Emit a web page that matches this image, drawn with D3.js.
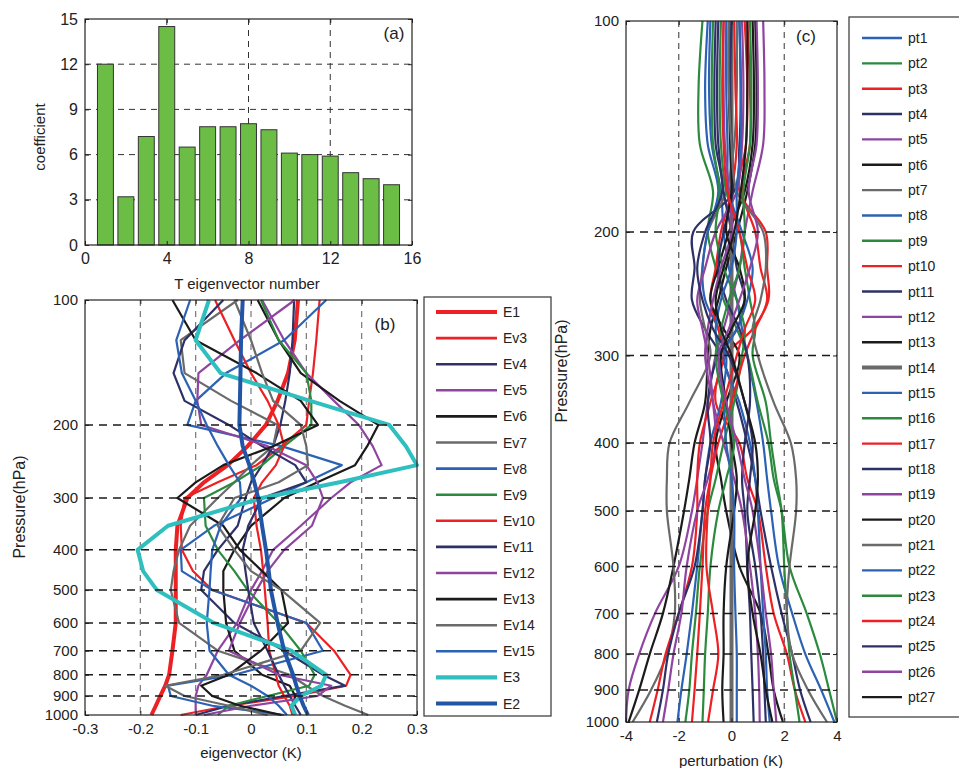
<!DOCTYPE html>
<html>
<head>
<meta charset="utf-8">
<script src="https://cdn.jsdelivr.net/npm/d3@7"></script>
<style>
body { margin: 0; background: #fff; }
text { font-family: "Liberation Sans", Arial, sans-serif; fill: #222; }
</style>
</head>
<body>
<div id="fig"></div>
<script>
// ---------- panel (a): coefficients ----------
const eigNumbers = d3.range(1, 16);
const coefficients = [12.0, 3.2, 7.2, 14.5, 6.5, 7.85, 7.85, 8.05, 7.65, 6.1, 6.0, 5.9, 4.8, 4.4, 4.0];
const aTicksX = [0, 4, 8, 12, 16];
const aTicksY = [0, 3, 6, 9, 12, 15];

// ---------- panel (b): eigenvectors ----------
const levelsB = [100, 125, 150, 175, 200, 225, 250, 275, 300, 350, 400, 450, 500, 600, 700, 800, 850, 900, 950, 1000];
const eigNames = ["E1", "Ev3", "Ev4", "Ev5", "Ev6", "Ev7", "Ev8", "Ev9", "Ev10", "Ev11", "Ev12", "Ev13", "Ev14", "Ev15", "E3", "E2"];
const E1   = [0.085, 0.079, 0.067, 0.048, 0.027, -0.006, -0.042, -0.085, -0.115, -0.133, -0.136, -0.136, -0.136, -0.136, -0.142, -0.148, -0.155, -0.164, -0.172, -0.18];
const Ev3  = [0.124, 0.118, 0.112, 0.105, 0.10, 0.055, 0.01, -0.06, -0.12, -0.127, -0.125, -0.105, -0.07, 0.10, 0.15, 0.18, 0.172, 0.08, -0.04, -0.127];
const Ev4  = [0.078, 0.075, 0.07, 0.062, 0.053, 0.04, 0.02, 0.0, -0.01, -0.024, -0.06, -0.085, -0.09, -0.03, 0.06, 0.13, 0.17, 0.06, -0.04, -0.10];
const Ev5  = [0.02, 0.06, 0.10, 0.15, 0.195, 0.22, 0.236, 0.18, 0.145, 0.09, 0.04, 0.02, 0.0, -0.025, -0.06, -0.08, -0.095, -0.10, -0.10, -0.10];
const Ev6  = [0.012, 0.05, 0.09, 0.16, 0.23, 0.21, 0.188, 0.12, 0.06, 0.0, -0.03, -0.05, -0.05, -0.045, -0.03, 0.02, 0.07, 0.08, 0.075, 0.075];
const Ev7  = [-0.024, -0.127, -0.12, -0.036, 0.048, 0.04, 0.0, -0.03, -0.06, -0.11, -0.13, -0.14, -0.145, -0.13, -0.06, 0.07, 0.10, 0.13, 0.17, 0.212];
const Ev8  = [0.136, 0.06, -0.045, -0.10, -0.115, 0.055, 0.164, 0.10, 0.04, -0.067, -0.127, -0.125, -0.07, 0.10, 0.13, -0.03, -0.15, -0.145, -0.07, 0.06];
const Ev9  = [0.018, 0.05, 0.10, 0.109, 0.109, 0.06, 0.02, -0.03, -0.085, -0.082, -0.06, -0.03, -0.006, 0.05, 0.09, 0.115, 0.105, 0.03, -0.04, -0.06];
const Ev10 = [-0.065, -0.03, 0.0, 0.03, 0.05, 0.06, 0.045, 0.02, 0.005, 0.01, 0.018, 0.022, 0.025, 0.03, 0.033, 0.045, 0.05, 0.06, 0.07, 0.075];
const Ev11 = [-0.05, -0.12, -0.14, -0.12, -0.04, 0.02, 0.08, 0.10, 0.02, -0.005, -0.015, -0.01, -0.005, 0.005, 0.03, 0.05, 0.06, 0.07, 0.08, 0.09];
const Ev12 = [0.079, -0.02, -0.095, -0.097, -0.09, 0.03, 0.10, 0.12, 0.13, 0.11, 0.06, 0.03, 0.01, -0.02, -0.04, 0.05, 0.145, 0.12, 0.0, -0.085];
const Ev13 = [-0.142, -0.10, 0.01, 0.09, 0.121, 0.04, -0.05, -0.10, -0.133, -0.05, -0.02, 0.02, 0.055, 0.067, 0.018, -0.04, -0.09, -0.07, -0.02, 0.055];
const Ev14 = [-0.03, 0.0, 0.02, 0.04, 0.09, 0.10, 0.103, 0.05, -0.03, -0.06, -0.03, 0.0, 0.055, 0.125, 0.09, -0.05, -0.155, -0.12, -0.04, 0.03];
const Ev15 = [-0.11, -0.135, -0.125, -0.10, -0.08, -0.06, -0.04, -0.02, -0.018, -0.055, -0.07, -0.073, -0.075, -0.08, -0.075, -0.04, 0.0, 0.03, 0.05, 0.065];
const E3   = [-0.076, -0.10, -0.055, 0.107, 0.25, 0.28, 0.30, 0.16, 0.02, -0.15, -0.205, -0.195, -0.17, -0.067, 0.073, 0.136, 0.127, 0.09, 0.073, 0.08];
const E2   = [-0.015, -0.018, -0.019, -0.02, -0.021, -0.015, -0.003, 0.006, 0.013, 0.02, 0.027, 0.032, 0.036, 0.048, 0.06, 0.076, 0.082, 0.088, 0.095, 0.103];
const eigSeries = [E1, Ev3, Ev4, Ev5, Ev6, Ev7, Ev8, Ev9, Ev10, Ev11, Ev12, Ev13, Ev14, Ev15, E3, E2];
const bTicksX = [-0.3, -0.2, -0.1, 0, 0.1, 0.2, 0.3];
const pTicks = [100, 200, 300, 400, 500, 600, 700, 800, 900, 1000];

// ---------- panel (c): perturbations ----------
const levelsC = [100, 125, 150, 175, 200, 225, 250, 275, 300, 350, 400, 450, 500, 600, 700, 800, 900, 1000];
const pt = [
  [-0.8, -0.85, -0.75, -0.4, -0.3, -0.1, 0.2, 0.4, 0.6, 0.95, 1.2, 1.35, 1.5, 1.8, 2.3, 2.8, 3.4, 3.9],
  [-1.1, -1.25, -1.2, -0.7, -0.9, -0.6, -0.3, 0.2, 0.6, 1.0, 1.4, 1.6, 1.9, 2.2, 2.85, 3.35, 3.7, 4.0],
  [0.5, 0.6, 0.55, 0.3, 1.3, 1.35, 1.4, 0.8, -0.2, -0.6, 0.3, 0.6, 1.0, 1.3, 1.6, 2.1, 2.4, 2.8],
  [0.3, 0.35, 0.3, 0.1, -1.45, -1.4, -1.5, -1.0, -0.4, 0.2, 0.6, 0.9, 1.1, 1.5, 1.9, 2.3, 2.6, 3.0],
  [1.2, 1.25, 1.2, 0.8, 0.5, 0.3, 0.0, -0.3, -0.6, -0.9, -1.1, -1.3, -1.5, -2.0, -2.9, -3.5, -3.9, -4.0],
  [0.9, 0.95, 0.9, 0.6, 0.2, -0.2, -0.5, -0.8, -0.9, -1.0, -1.4, -1.6, -1.8, -2.2, -2.6, -3.1, -3.5, -3.9],
  [0.2, 0.2, 0.1, -0.2, -0.9, -1.1, -1.2, -1.0, -0.8, -1.6, -2.35, -2.45, -2.45, -2.2, -2.15, -2.45, -3.05, -3.75],
  [-0.9, -1.0, -0.9, -0.5, -0.9, -1.1, -1.0, -0.5, -0.2, -0.4, -0.8, -1.0, -1.1, -1.3, -1.5, -1.7, -1.9, -2.05],
  [-0.4, -0.45, -0.4, -0.2, 0.3, 0.5, 0.7, 0.9, 0.8, 1.3, 1.5, 1.7, 1.9, 2.0, 2.1, 2.2, 2.4, 2.58],
  [0.1, 0.15, 0.2, 0.0, -0.4, -0.6, -0.8, -0.5, -0.3, -0.8, -1.2, -1.3, -1.3, -1.5, -2.0, -2.5, -2.8, -3.1],
  [-0.5, -0.55, -0.5, -0.3, 0.0, 0.2, 0.5, 0.2, -0.5, -0.9, -0.8, -1.0, -1.1, -1.4, -2.0, -2.4, -2.6, -2.83],
  [0.4, 0.45, 0.4, 0.2, -0.6, -1.0, -1.3, -1.1, -0.9, -0.7, -0.6, -0.9, -1.3, -1.7, -1.9, -2.2, -2.4, -2.6],
  [0.8, 0.85, 0.8, 0.5, -0.1, -0.5, -0.8, -0.3, 0.3, -0.2, -0.6, -0.4, -0.2, 0.3, 1.1, 1.4, 1.6, 1.95],
  [0, 0, 0, 0, 0, 0, 0, 0, 0, 0, 0, 0, 0, 0, 0, 0, 0, 0],
  [-0.2, -0.2, -0.15, -0.1, 0.4, 0.8, 0.6, 0.2, -0.3, 0.3, 0.7, 0.9, 1.0, 1.1, 1.2, 1.3, 1.35, 1.45],
  [-0.7, -0.75, -0.7, -0.45, -0.6, -0.3, 0.2, 0.5, 0.4, 0.1, -0.3, -0.6, -0.9, -1.2, -1.35, -1.5, -1.6, -1.75],
  [0.6, 0.7, 0.7, 0.4, 0.9, 1.1, 1.35, 0.9, 0.5, 0.0, -0.5, -0.8, -1.0, -1.1, -1.2, -1.3, -1.4, -1.5],
  [0.0, -0.05, 0.0, 0.05, -0.3, -0.5, -0.2, 0.3, 0.6, 0.7, 0.5, 0.4, 0.5, 0.6, 0.7, 0.75, 0.8, 0.84],
  [-0.3, -0.3, -0.25, -0.1, 0.0, -0.4, -0.7, -0.9, -1.0, -0.7, -0.3, 0.1, 0.4, 0.7, 0.9, 1.0, 1.05, 1.07],
  [-0.1, -0.1, -0.05, 0.0, -0.2, 0.3, 0.5, 0.0, -0.4, -0.2, 0.0, 0.2, 0.1, -0.2, -0.3, -0.3, -0.35, -0.3],
  [-0.1, -0.1, 0.0, 0.2, 1.2, 1.3, 1.1, 0.8, 1.0, 1.6, 2.25, 2.45, 2.45, 2.2, 2.1, 2.3, 2.9, 3.62],
  [0.3, 0.35, 0.35, 0.2, 0.2, 0.0, -0.4, -0.6, -0.5, -0.3, -0.2, 0.0, 0.1, 0.1, 0.15, 0.2, 0.2, 0.2],
  [0.7, 0.75, 0.7, 0.45, 0.5, 0.3, -0.1, -0.4, -0.6, -0.3, 0.1, -0.2, -0.5, -0.8, -0.9, -1.0, -1.05, -1.1],
  [-0.3, -0.35, -0.3, -0.15, 0.3, 0.6, 0.9, 0.5, 0.2, -0.3, -0.7, -0.8, -0.9, -0.95, -0.7, -0.5, -0.7, -0.89],
  [-0.6, -0.65, -0.6, -0.35, -1.0, -1.3, -1.1, -0.7, -0.1, 0.5, 0.8, 0.7, 0.6, 0.9, 1.1, 1.2, 1.25, 1.3],
  [0.95, 1.0, 0.95, 0.65, 1.0, 0.7, 0.3, -0.1, -0.5, -0.2, 0.2, 0.5, 0.8, 1.1, 1.3, 1.5, 1.6, 1.7],
  [0.6, 0.6, 0.55, 0.35, 0.1, -0.3, -0.6, -0.4, 0.0, 0.5, 0.9, 1.0, 0.9, 0.6, 0.8, 1.1, 1.3, 1.55]
];
const ptNames = pt.map((d, i) => "pt" + (i + 1));
const cTicksX = [-4, -2, 0, 2, 4];

// colours
const RED = "#ed2024", NAVY = "#2e3068", PURPLE = "#8f45a0", BLACK = "#1b1b1b",
      GRAY = "#6a6a6a", BLUE = "#2b62b3", GREEN = "#2b8a3e", CYAN = "#2fbfbf", DBLUE = "#2255a5";
const eigColors = [RED, RED, NAVY, PURPLE, BLACK, GRAY, BLUE, GREEN, RED, NAVY, PURPLE, BLACK, GRAY, BLUE, CYAN, DBLUE];
const eigWidths = eigNames.map(n => n.startsWith("Ev") ? 2.2 : 4);
const ptCycle = [BLUE, GREEN, RED, NAVY, PURPLE, BLACK, GRAY];

// plain hyphen minus, like the original figure
const plain = d => String(d);

const svg = d3.select("#fig").append("svg").attr("width", 959).attr("height", 768);

// helper: inward ticks on all four sides, frame, labels
function drawAxes(x, y, xt, yt, xfmt, yfmt, fs) {
  const [x0, x1] = x.range();
  const yTop = d3.min(y.range()), yBot = d3.max(y.range());
  const style = g => {
    g.select(".domain").remove();
    g.attr("font-family", null).attr("font-size", fs);
    g.selectAll("line").attr("stroke", "#222");
  };
  svg.append("g").attr("transform", `translate(0,${yBot})`)
    .call(d3.axisBottom(x).tickValues(xt).tickFormat(xfmt).tickSize(-4).tickPadding(8)).call(style);
  svg.append("g").attr("transform", `translate(0,${yTop})`)
    .call(d3.axisTop(x).tickValues(xt).tickFormat("").tickSize(-4)).call(style);
  svg.append("g").attr("transform", `translate(${x0},0)`)
    .call(d3.axisLeft(y).tickValues(yt).tickFormat(yfmt).tickSize(-4).tickPadding(7)).call(style);
  svg.append("g").attr("transform", `translate(${x1},0)`)
    .call(d3.axisRight(y).tickValues(yt).tickFormat("").tickSize(-4)).call(style);
  svg.append("rect").attr("x", x0).attr("y", yTop).attr("width", x1 - x0).attr("height", yBot - yTop)
    .attr("fill", "none").attr("stroke", "#222").attr("stroke-width", 1.2);
}

function vGrid(x, y, vals, color, dash, w) {
  svg.append("g").selectAll("line").data(vals).join("line")
    .attr("x1", d => x(d)).attr("x2", d => x(d))
    .attr("y1", y.range()[0]).attr("y2", y.range()[1])
    .attr("stroke", color).attr("stroke-dasharray", dash).attr("stroke-width", w);
}
function hGrid(x, y, vals, color, dash, w) {
  svg.append("g").selectAll("line").data(vals).join("line")
    .attr("y1", d => y(d)).attr("y2", d => y(d))
    .attr("x1", x.range()[0]).attr("x2", x.range()[1])
    .attr("stroke", color).attr("stroke-dasharray", dash).attr("stroke-width", w);
}

// ===== panel (a) =====
const xA = d3.scaleLinear().domain([0, 16]).range([85, 412]);
const yA = d3.scaleLinear().domain([0, 15]).range([245, 19]);
hGrid(xA, yA, [3, 6, 9, 12], "#333", "6,5", 1);
vGrid(xA, yA, [4, 8, 12], "#333", "6,5", 1);
svg.append("g").selectAll("rect").data(coefficients).join("rect")
  .attr("x", (d, i) => xA(eigNumbers[i] - 0.39))
  .attr("width", xA(0.78) - xA(0))
  .attr("y", d => yA(d)).attr("height", d => yA(0) - yA(d))
  .attr("fill", "#6cbd45").attr("stroke", "#333").attr("stroke-width", 1);
drawAxes(xA, yA, aTicksX, aTicksY, plain, plain, 16);
svg.append("text").attr("x", 394).attr("y", 39).attr("text-anchor", "middle").attr("font-size", 17).text("(a)");
svg.append("text").attr("x", 247).attr("y", 289).attr("text-anchor", "middle").attr("font-size", 15).text("T eigenvector number");
svg.append("text").attr("transform", "translate(45,137) rotate(-90)").attr("text-anchor", "middle").attr("font-size", 15).text("coefficient");

// ===== panel (b) =====
const xB = d3.scaleLinear().domain([-0.3, 0.3]).range([85, 417]);
const yB = d3.scaleLog().domain([100, 1000]).range([300, 715]);
vGrid(xB, yB, [-0.2, -0.1, 0, 0.1, 0.2], "#777", "6,5", 1.2);
const lineB = d3.line().x(d => xB(d[1])).y(d => yB(d[0]));
svg.append("g").selectAll("path").data(eigSeries).join("path")
  .attr("d", s => lineB(levelsB.map((p, i) => [p, s[i]])))
  .attr("fill", "none")
  .attr("stroke", (s, i) => eigColors[i])
  .attr("stroke-width", (s, i) => eigWidths[i])
  .attr("stroke-linejoin", "round");
hGrid(xB, yB, [200, 300, 400, 500, 600, 700, 800, 900], "#1a1a1a", "8,6", 1.5);
drawAxes(xB, yB, bTicksX, pTicks, plain, plain, 15);
svg.append("text").attr("x", 385).attr("y", 330).attr("text-anchor", "middle").attr("font-size", 17).text("(b)");
svg.append("text").attr("x", 251).attr("y", 758).attr("text-anchor", "middle").attr("font-size", 15).text("eigenvector (K)");
svg.append("text").attr("transform", "translate(25,507) rotate(-90)").attr("text-anchor", "middle").attr("font-size", 16).text("Pressure(hPa)");

// legend (b)
svg.append("rect").attr("x", 424).attr("y", 297).attr("width", 127).attr("height", 419)
  .attr("fill", "#fff").attr("stroke", "#333").attr("stroke-width", 1.2);
const legB = svg.append("g").selectAll("g").data(eigNames).join("g")
  .attr("transform", (d, i) => `translate(0,${312 + i * 26.1})`);
legB.append("line").attr("x1", 436).attr("x2", 497)
  .attr("stroke", (d, i) => eigColors[i])
  .attr("stroke-width", (d, i) => eigWidths[i] < 3 ? 2.6 : 4.2);
legB.append("text").attr("x", 503).attr("y", 5).attr("font-size", 14).text(d => d);

// ===== panel (c) =====
const xC = d3.scaleLinear().domain([-4, 4]).range([626, 837]);
const yC = d3.scaleLog().domain([100, 1000]).range([21, 722]);
vGrid(xC, yC, [-2, 0, 2], "#555", "6,5", 1.2);
const lineC = d3.line().x(d => xC(d[1])).y(d => yC(d[0])).curve(d3.curveCatmullRom.alpha(0.5));
svg.append("g").selectAll("path").data(pt).join("path")
  .attr("d", s => lineC(levelsC.map((p, i) => [p, s[i]])))
  .attr("fill", "none")
  .attr("stroke", (s, i) => ptCycle[i % 7])
  .attr("stroke-width", (s, i) => i === 13 ? 4 : 2.2);
hGrid(xC, yC, [200, 300, 400, 500, 600, 700, 800, 900], "#1a1a1a", "8,6", 1.5);
drawAxes(xC, yC, cTicksX, pTicks, plain, plain, 15);
svg.append("text").attr("x", 806).attr("y", 42).attr("text-anchor", "middle").attr("font-size", 17).text("(c)");
svg.append("text").attr("x", 731).attr("y", 766).attr("text-anchor", "middle").attr("font-size", 15).text("perturbation (K)");
svg.append("text").attr("transform", "translate(567,371) rotate(-90)").attr("text-anchor", "middle").attr("font-size", 16).text("Pressure(hPa)");

// legend (c)
svg.append("rect").attr("x", 849).attr("y", 17).attr("width", 140).attr("height", 700)
  .attr("fill", "#fff").attr("stroke", "#333").attr("stroke-width", 1.2);
const legC = svg.append("g").selectAll("g").data(ptNames).join("g")
  .attr("transform", (d, i) => `translate(0,${38 + i * 25.35})`);
legC.append("line").attr("x1", 862).attr("x2", 902)
  .attr("stroke", (d, i) => ptCycle[i % 7])
  .attr("stroke-width", (d, i) => i === 13 ? 4 : 2.4);
legC.append("text").attr("x", 908).attr("y", 5).attr("font-size", 14).text(d => d);
</script>
</body>
</html>
